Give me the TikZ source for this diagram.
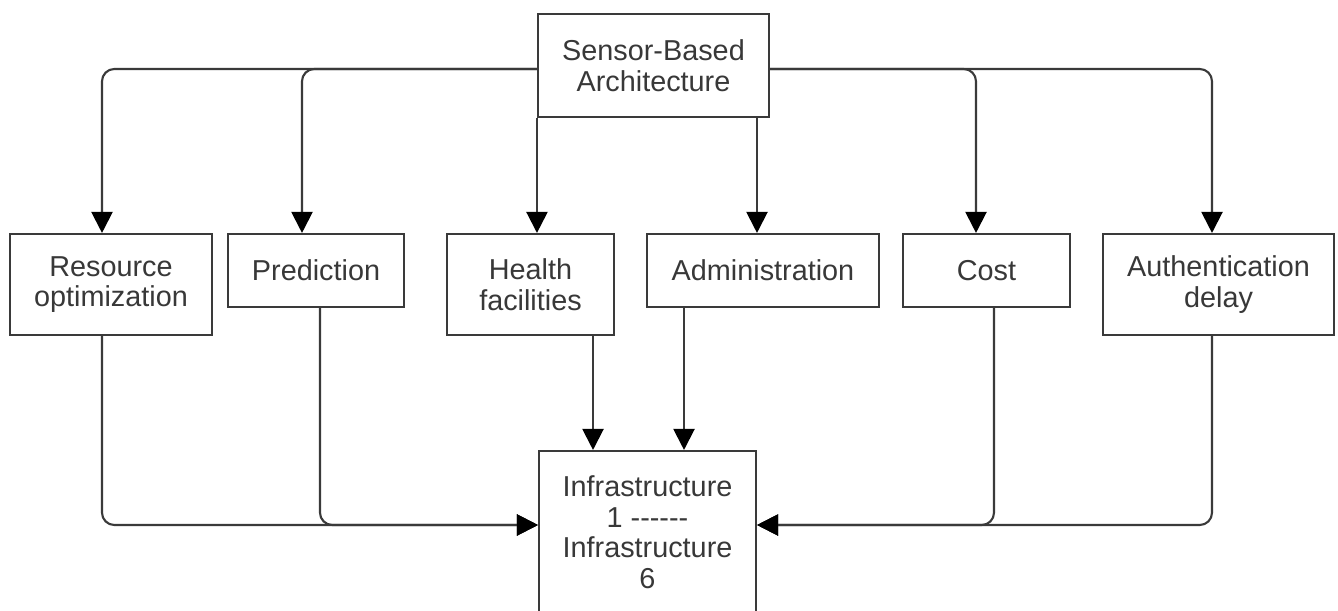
\documentclass[tikz,border=0pt]{standalone}
\usepackage{fontspec}
\setmainfont{Liberation Sans}
\usetikzlibrary{positioning, arrows.meta}
\definecolor{mLine}{HTML}{3A3A3A}
\definecolor{mText}{HTML}{383838}
\tikzset{
  font=\fontsize{16.4}{17.4}\selectfont,
  boxn/.style={draw=mLine, line width=1.2pt, rectangle, align=center, text=mText, inner sep=0pt},
  conn/.style={draw=mLine, line width=1.2pt, rounded corners=7pt, -{Triangle[length=12pt, width=12pt, color=black]}}
}

\begin{document}
\begin{tikzpicture}[
        x=0.02cm, y=-0.02cm,
        tallbox/.style={boxn, minimum height=2.02cm},
        flatbox/.style={boxn, minimum height=1.46cm}
        ]
        \useasboundingbox (0,0) rectangle (1338,611);

        \node[boxn, minimum width=4.62cm, minimum height=2.06cm] (sensor) at (653.5,65.5) {Sensor-Based\\ Architecture};

        \node[tallbox, minimum width=4.04cm] (resource) at (111,284.5) {Resource\\ optimization};
        \node[flatbox, minimum width=3.52cm] (predict) at (316,270.5) {Prediction};
        \node[tallbox, minimum width=3.34cm] (health) at (530.5,284.5) {Health\\ facilities};
        \node[flatbox, minimum width=4.64cm] (admin) at (763,270.5) {Administration};
        \node[flatbox, minimum width=3.34cm] (cost) at (986.5,270.5) {Cost};
        \node[tallbox, minimum width=4.62cm] (auth) at (1218.5,284.5) {Authentication\\ delay};

        \node[boxn, minimum width=4.34cm, minimum height=3.24cm] (infra) at (647.5,532) {Infrastructure\\ 1 -{}-{}-{}-{}-{}-\\ Infrastructure\\ 6};

        % from the architecture down to the six aspects
        \draw[conn] (sensor.west |- 0,69) -| (102,0 |- resource.north);
        \draw[conn] (sensor.west |- 0,69) -| (302,0 |- predict.north);
        \draw[conn] (sensor.south west) -- (sensor.south west |- health.north);
        \draw[conn] (757,0 |- sensor.south) -- (757,0 |- admin.north);
        \draw[conn] (sensor.east |- 0,69) -| (976,0 |- cost.north);
        \draw[conn] (sensor.east |- 0,69) -| (1212,0 |- auth.north);

        % from the aspects into the infrastructures
        \draw[conn] (102,0 |- resource.south) |- (infra.west |- 0,525);
        \draw[conn] (320,0 |- predict.south) |- (infra.west |- 0,525);
        \draw[conn] (593,0 |- health.south) -- (593,0 |- infra.north);
        \draw[conn] (684,0 |- admin.south) -- (684,0 |- infra.north);
        \draw[conn] (994,0 |- cost.south) |- (infra.east |- 0,525);
        \draw[conn] (1212,0 |- auth.south) |- (infra.east |- 0,525);
      \end{tikzpicture}
\end{document}
